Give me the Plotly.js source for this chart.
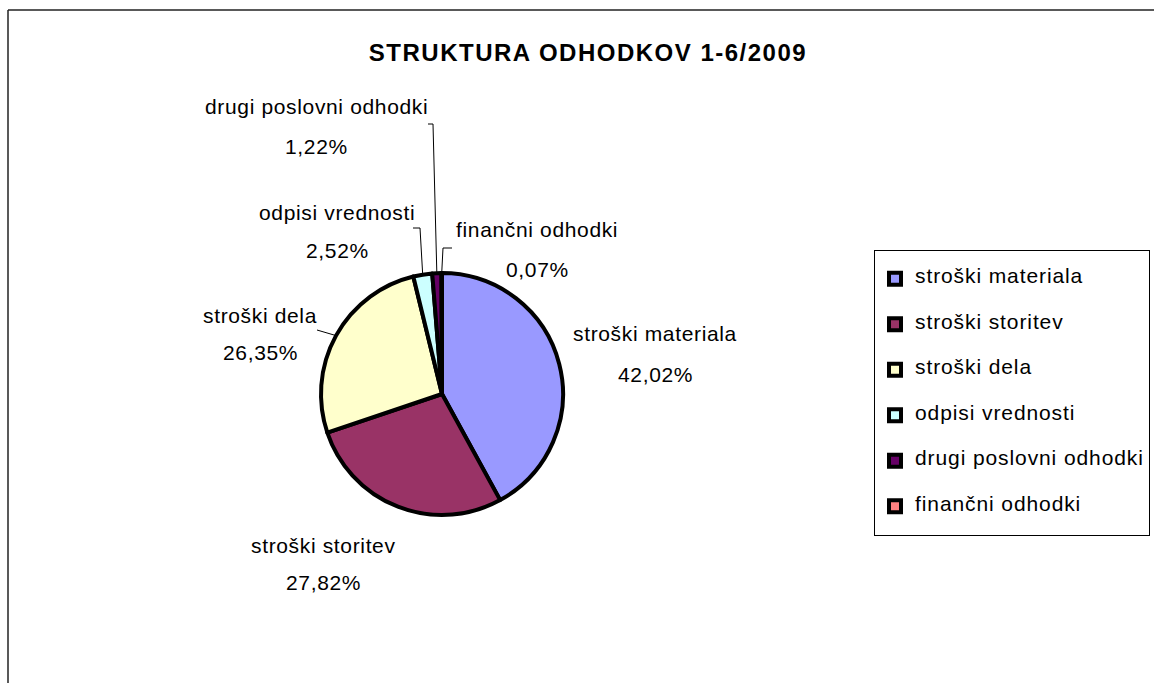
<!DOCTYPE html>
<html>
<head>
<meta charset="utf-8">
<script src="https://cdn.plot.ly/plotly-3.0.1.min.js"></script>
<style>html,body{margin:0;padding:0;background:#fff;}#chart{width:1154px;height:683px;}</style>
</head>
<body>
<div id="chart"></div>
<script>
// ---- data ----
var labels = ['stroški materiala', 'stroški storitev', 'stroški dela', 'odpisi vrednosti', 'drugi poslovni odhodki', 'finančni odhodki'];
var values = [42.02, 27.82, 26.35, 2.52, 1.22, 0.07];
var colors = ['#9999FF', '#993366', '#FFFFCC', '#CCFFFF', '#660066', '#FF8080'];
var title = 'STRUKTURA ODHODKOV 1-6/2009';

// ---- layout helpers (pixels -> paper) ----
var W = 1154, H = 683;
function px(x) { return x / W; }
function py(y) { return 1 - y / H; }
var FONT = 'Liberation Sans, Arial, sans-serif';

// pie geometry (pixels)
var cx = 442, cy = 394, R = 121;

// label positions (pixel centres of name / value lines)
var labelPos = [
  {x: 655, yn: 334, yv: 374},
  {x: 323, yn: 545, yv: 582},
  {x: 260, yn: 315, yv: 352},
  {x: 337, yn: 212, yv: 250},
  {x: 316, yn: 107, yv: 147},
  {x: 537, yn: 229, yv: 269}
];
// leader elbows for the small / side slices
var leaders = {
  2: {sx: 317, sy: 330, ex: null},
  3: {sx: 413, sy: 228, ex: 420},
  4: {sx: 428, sy: 124, ex: 433},
  5: {sx: 452, sy: 248, ex: 443}
};

function fmt(v) { return v.toFixed(2).replace('.', ',') + '%'; }
function spaced(t, s) { return '<span style="letter-spacing:' + s + 'px">' + t + '</span>'; }

var total = values.reduce(function(a, b) { return a + b; }, 0);
var cum = 0;
var mids = values.map(function(v) { var m = (cum + v / 2) / total; cum += v; return m * 2 * Math.PI; });

var annotations = [];
labels.forEach(function(l, i) {
  var p = labelPos[i];
  annotations.push({xref: 'paper', yref: 'paper', x: px(p.x), y: py(p.yn), text: spaced(l, 0.65), showarrow: false,
    xanchor: 'center', yanchor: 'middle', font: {family: FONT, size: 21, color: '#000'}});
  annotations.push({xref: 'paper', yref: 'paper', x: px(p.x), y: py(p.yv), text: spaced(fmt(values[i]), 0.65), showarrow: false,
    xanchor: 'center', yanchor: 'middle', font: {family: FONT, size: 21, color: '#000'}});
});

var shapes = [];
// outer chart frame (left and top edges; right/bottom lie outside the view)
shapes.push({type: 'line', xref: 'paper', yref: 'paper', x0: px(8), x1: px(8), y0: -0.05, y1: py(10),
  line: {color: '#222', width: 1.5}, layer: 'below'});
shapes.push({type: 'line', xref: 'paper', yref: 'paper', x0: px(8), x1: 1.05, y0: py(10), y1: py(10),
  line: {color: '#222', width: 1.5}, layer: 'below'});

Object.keys(leaders).forEach(function(k) {
  var i = +k, L = leaders[k];
  var a = mids[i];
  var tx = cx + R * Math.sin(a), ty = cy - R * Math.cos(a);
  var path;
  if (L.ex === null) {
    path = 'M ' + px(L.sx) + ' ' + py(L.sy) + ' L ' + px(tx) + ' ' + py(ty);
  } else {
    path = 'M ' + px(L.sx) + ' ' + py(L.sy) + ' L ' + px(L.ex) + ' ' + py(L.sy) + ' L ' + px(tx) + ' ' + py(ty);
  }
  shapes.push({type: 'path', xref: 'paper', yref: 'paper', path: path, line: {color: '#000', width: 1}});
});

// legend entries padded so the item pitch matches the original
var legendLabels = labels.map(function(l) {
  return ' <br><span style="font-size:21px;letter-spacing:0.9px">' + l + '</span><br> ';
});

var trace = {
  type: 'pie',
  labels: legendLabels,
  values: values,
  sort: false,
  direction: 'clockwise',
  rotation: 0,
  textinfo: 'none',
  hoverinfo: 'percent',
  automargin: false,
  marker: {colors: colors, line: {color: '#000', width: 4}},
  domain: {x: [px(cx - R), px(cx + R)], y: [py(cy + R), py(cy - R)]}
};

var layout = {
  width: W, height: H,
  margin: {l: 0, r: 0, t: 0, b: 0},
  paper_bgcolor: '#fff',
  title: {text: '<b>' + spaced(title, 1.5) + '</b>', x: px(588), xanchor: 'center', y: py(53), yanchor: 'middle',
    font: {family: FONT, size: 24, color: '#000'}},
  showlegend: true,
  legend: {x: px(874), y: py(250), xanchor: 'left', yanchor: 'top',
    bordercolor: '#000', borderwidth: 1, bgcolor: '#fff',
    font: {family: FONT, size: 10.9, color: '#000'}, valign: 'middle'},
  annotations: annotations,
  shapes: shapes
};

Plotly.newPlot('chart', [trace], layout, {displayModeBar: false, staticPlot: true});
</script>
</body>
</html>
